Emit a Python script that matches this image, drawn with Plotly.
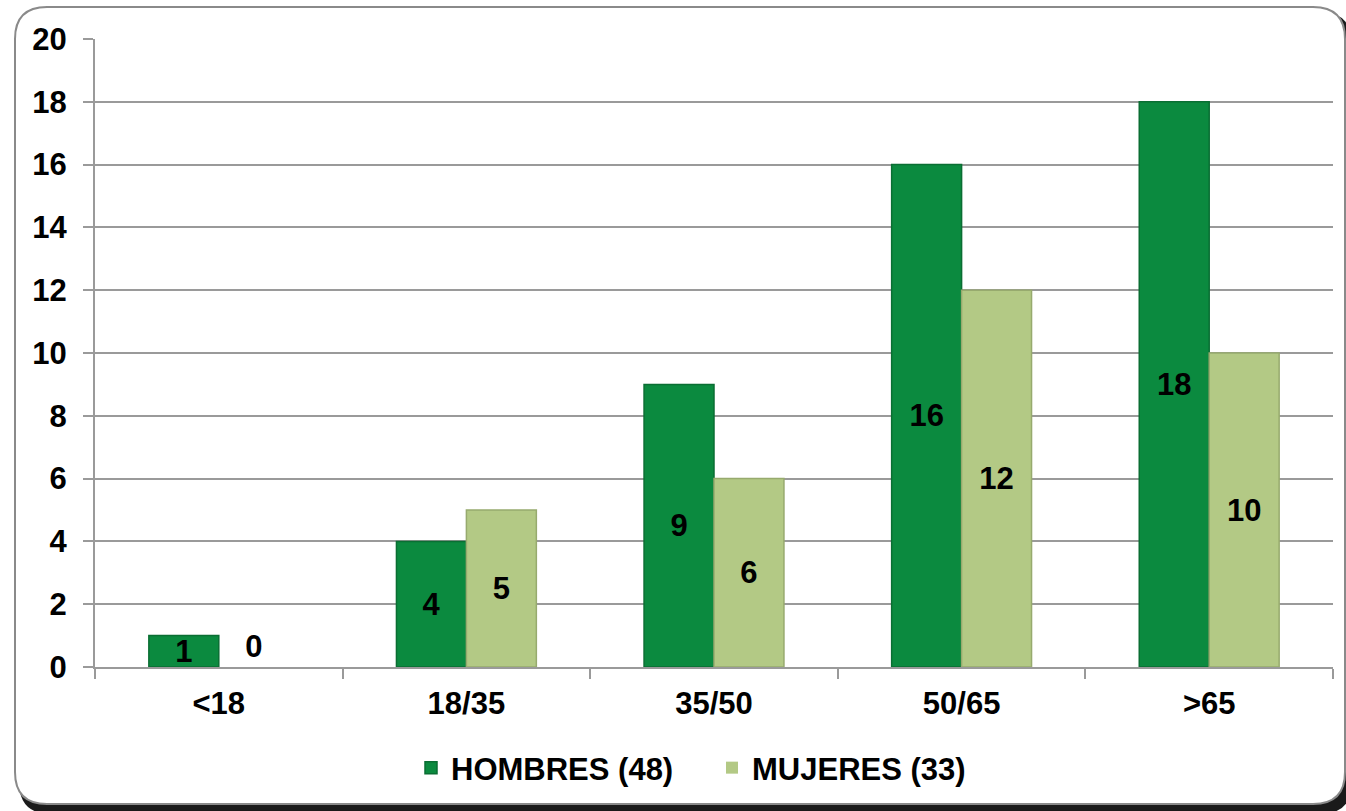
import plotly.graph_objects as go

categories = ["<18", "18/35", "35/50", "50/65", ">65"]
hombres = [1, 4, 9, 16, 18]
mujeres = [0, 5, 6, 12, 10]
series_names = ["HOMBRES (48)", "MUJERES (33)"]
y_ticks = list(range(0, 21, 2))

W, H = 1346, 811
ML, MR, MT, MB = 95, 13, 39, 144
PW, PH = W - ML - MR, H - MT - MB

def px(x):
    return (x - ML) / PW

def py(y):
    return (H - MB - y) / PH

def rounded_path(x0, y0, x1, y1, r):
    pts = []
    pts.append(f"M {px(x0 + r)},{py(y0)}")
    pts.append(f"L {px(x1 - r)},{py(y0)}")
    pts.append(f"Q {px(x1)},{py(y0)} {px(x1)},{py(y0 + r)}")
    pts.append(f"L {px(x1)},{py(y1 - r)}")
    pts.append(f"Q {px(x1)},{py(y1)} {px(x1 - r)},{py(y1)}")
    pts.append(f"L {px(x0 + r)},{py(y1)}")
    pts.append(f"Q {px(x0)},{py(y1)} {px(x0)},{py(y1 - r)}")
    pts.append(f"L {px(x0)},{py(y0 + r)}")
    pts.append(f"Q {px(x0)},{py(y0)} {px(x0 + r)},{py(y0)}")
    pts.append("Z")
    return " ".join(pts)

FONT = "Liberation Sans, Arial, sans-serif"
LABEL_SIZE = 31

def positions(vals):
    return ["inside" if v > 0 else "outside" for v in vals]

def line_widths(vals):
    return [1.5 if v > 0 else 0 for v in vals]

fig = go.Figure()
fig.add_trace(go.Bar(
    x=categories, y=hombres, name=series_names[0],
    marker=dict(color="#0B8A3F", line=dict(color="#0A6E33", width=line_widths(hombres))),
    text=[str(v) for v in hombres], textposition=positions(hombres), textangle=0,
    insidetextanchor="middle", constraintext="none", cliponaxis=False,
    textfont=dict(family=FONT, size=LABEL_SIZE, color="black", weight="bold"),
))
fig.add_trace(go.Bar(
    x=categories, y=mujeres, name=series_names[1],
    marker=dict(color="#B3C985", line=dict(color="#97AA6E", width=line_widths(mujeres))),
    text=[str(v) for v in mujeres], textposition=positions(mujeres), textangle=0,
    insidetextanchor="middle", constraintext="none", cliponaxis=False,
    textfont=dict(family=FONT, size=LABEL_SIZE, color="black", weight="bold"),
))

shapes = [
    dict(type="path", xref="paper", yref="paper", layer="below",
         path=rounded_path(19, 12, 1352, 814, 32),
         fillcolor="#1a1a1a", line=dict(width=0)),
    dict(type="path", xref="paper", yref="paper", layer="below",
         path=rounded_path(15, 7, 1345, 804, 32),
         fillcolor="white", line=dict(color="#8A8A8A", width=2)),
]

fig.update_layout(
    width=W, height=H,
    margin=dict(l=ML, r=MR, t=MT, b=MB, autoexpand=False),
    paper_bgcolor="white",
    plot_bgcolor="rgba(0,0,0,0)",
    barmode="group",
    bargap=0.435,
    bargroupgap=0,
    font=dict(family=FONT, size=30, color="black"),
    shapes=shapes,
    showlegend=True,
    legend=dict(
        orientation="h", x=px(712), xanchor="center", y=py(768), yanchor="middle",
        font=dict(family=FONT, size=31, color="black", weight="bold"),
        bgcolor="rgba(0,0,0,0)", itemwidth=30,
        entrywidth=256, entrywidthmode="pixels",
    ),
)
fig.update_xaxes(
    showline=True, linecolor="#9A9A9A", linewidth=2,
    ticks="outside", tickson="boundaries", ticklen=10, tickcolor="#9A9A9A", tickwidth=2,
    tickfont=dict(family=FONT, size=31, color="black", weight="bold"),
    showgrid=False, ticklabelstandoff=8,
)
fig.update_yaxes(
    range=[0, 20], tickvals=y_ticks,
    showline=True, linecolor="#9A9A9A", linewidth=2,
    ticks="outside", ticklen=10, tickcolor="#9A9A9A", tickwidth=2,
    showgrid=True, gridcolor="#9A9A9A", gridwidth=2,
    zeroline=False,
    tickfont=dict(family=FONT, size=31, color="black", weight="bold"),
    ticklabelstandoff=10,
)

fig.write_html("out.html", config={"displayModeBar": False})

# remove the browser's default page margin so the chart sits at the window origin
with open("out.html", "r", encoding="utf-8") as f:
    html = f.read()
html = html.replace("<head>", "<head><style>html,body{margin:0;padding:0;overflow:hidden;}</style>", 1)
with open("out.html", "w", encoding="utf-8") as f:
    f.write(html)
